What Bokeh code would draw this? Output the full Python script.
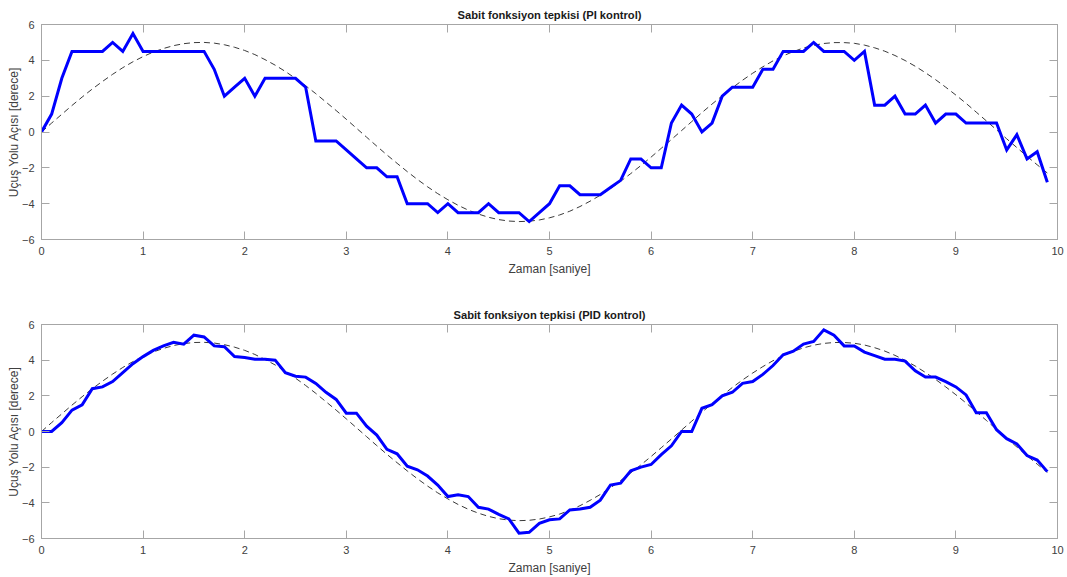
from bokeh.plotting import figure
from bokeh.layouts import column
from bokeh.models import LinearAxis, FixedTicker, Range1d
from bokeh.embed import file_html
from bokeh.resources import INLINE

# time base (s), sampled every 0.1 s
t = [i / 10 for i in range(100)]

# reference trajectory (deg)
ref = [0.00, 0.50, 0.99, 1.48, 1.95, 2.40, 2.82, 3.22, 3.59, 3.92,
       4.21, 4.46, 4.66, 4.82, 4.93, 4.99, 5.00, 4.96, 4.87, 4.73,
       4.55, 4.32, 4.04, 3.73, 3.38, 2.99, 2.58, 2.14, 1.67, 1.20,
       0.71, 0.21, -0.29, -0.79, -1.28, -1.75, -2.21, -2.65, -3.06, -3.44,
       -3.78, -4.09, -4.36, -4.58, -4.76, -4.89, -4.97, -5.00, -4.98, -4.91,
       -4.79, -4.63, -4.42, -4.16, -3.86, -3.53, -3.16, -2.75, -2.32, -1.87,
       -1.40, -0.91, -0.42, 0.08, 0.58, 1.08, 1.56, 2.02, 2.47, 2.89,
       3.28, 3.64, 3.97, 4.25, 4.49, 4.69, 4.84, 4.94, 4.99, 4.99,
       4.95, 4.85, 4.70, 4.51, 4.27, 3.99, 3.67, 3.31, 2.92, 2.50,
       2.06, 1.60, 1.11, 0.62, 0.12, -0.38, -0.87, -1.36, -1.83, -2.29]

# flight path angle with PI control (deg)
pi_resp = [0.0, 1.0, 3.0, 4.5, 4.5, 4.5, 4.5, 5.0, 4.5, 5.5,
           4.5, 4.5, 4.5, 4.5, 4.5, 4.5, 4.5, 3.5, 2.0, 2.5,
           3.0, 2.0, 3.0, 3.0, 3.0, 3.0, 2.5, -0.5, -0.5, -0.5,
           -1.0, -1.5, -2.0, -2.0, -2.5, -2.5, -4.0, -4.0, -4.0, -4.5,
           -4.0, -4.5, -4.5, -4.5, -4.0, -4.5, -4.5, -4.5, -5.0, -4.5,
           -4.0, -3.0, -3.0, -3.5, -3.5, -3.5, -3.1, -2.7, -1.5, -1.5,
           -2.0, -2.0, 0.5, 1.5, 1.0, 0.0, 0.5, 2.0, 2.5, 2.5,
           2.5, 3.5, 3.5, 4.5, 4.5, 4.5, 5.0, 4.5, 4.5, 4.5,
           4.0, 4.5, 1.5, 1.5, 2.0, 1.0, 1.0, 1.5, 0.5, 1.0,
           1.0, 0.5, 0.5, 0.5, 0.5, -1.0, -0.15, -1.5, -1.1, -2.8]

# flight path angle with PID control (deg)
pid_resp = [0.0, 0.0, 0.5, 1.2, 1.5, 2.4, 2.5, 2.8, 3.3, 3.8,
            4.2, 4.55, 4.8, 5.0, 4.9, 5.4, 5.3, 4.8, 4.75, 4.2,
            4.15, 4.05, 4.05, 4.0, 3.3, 3.1, 3.05, 2.7, 2.2, 1.8,
            1.03, 1.03, 0.3, -0.2, -1.0, -1.25, -1.95, -2.15, -2.5, -3.0,
            -3.65, -3.55, -3.65, -4.25, -4.35, -4.65, -4.9, -5.7, -5.65, -5.15,
            -4.95, -4.9, -4.4, -4.35, -4.25, -3.85, -3.0, -2.9, -2.2, -2.0,
            -1.85, -1.3, -0.8, 0.0, 0.0, 1.3, 1.5, 2.0, 2.2, 2.7,
            2.8, 3.2, 3.7, 4.3, 4.5, 4.9, 5.05, 5.7, 5.4, 4.8,
            4.8, 4.45, 4.25, 4.05, 4.05, 3.95, 3.4, 3.05, 3.05, 2.8,
            2.5, 2.05, 1.05, 1.05, 0.1, -0.4, -0.7, -1.35, -1.6, -2.25]

x_ticks = [0, 1, 2, 3, 4, 5, 6, 7, 8, 9, 10]
y_ticks = [-6, -4, -2, 0, 2, 4, 6]

titles = ["Sabit fonksiyon tepkisi (PI kontrol)",
          "Sabit fonksiyon tepkisi (PID kontrol)"]
x_label = "Zaman [saniye]"
y_label = "Uçuş Yolu Açısı [derece]"

FONT = "Liberation Sans"
BOX = "#a6a6a6"
TXT = "#404040"


def style_axis(ax, show_labels, label_standoff=3):
    ax.axis_line_color = BOX
    ax.major_tick_line_color = BOX
    ax.major_tick_in = 8
    ax.major_tick_out = 0
    ax.minor_tick_line_color = None
    ax.major_label_text_font = FONT
    ax.major_label_text_color = TXT
    ax.axis_label_text_font = FONT
    ax.axis_label_text_color = TXT
    ax.axis_label_text_font_style = "normal"
    ax.axis_label_text_font_size = "12px"
    if show_labels:
        ax.major_label_text_font_size = "11px"
        ax.major_label_standoff = 7
        ax.axis_label_standoff = label_standoff
    else:
        # tick marks only on the mirrored sides
        ax.major_label_text_color = None
        ax.major_label_text_font_size = "1px"
        ax.major_label_standoff = 0


def make_panel(title, resp, height, top, bottom):
    p = figure(width=1067, height=height, output_backend="svg",
               toolbar_location=None,
               x_range=Range1d(0, 10), y_range=Range1d(-6, 6),
               min_border_left=41, min_border_right=10,
               min_border_top=top, min_border_bottom=bottom)
    p.title.text = title
    p.title.text_font = FONT
    p.title.text_font_size = "11.2px"
    p.title.text_font_style = "bold"
    p.title.text_color = "#1a1a1a"
    p.title.align = "center"
    p.title.offset = 21
    p.title.standoff = 8

    p.grid.visible = False
    p.outline_line_color = BOX
    p.outline_line_width = 1
    p.background_fill_color = "white"
    p.border_fill_color = "white"

    p.xaxis.ticker = FixedTicker(ticks=x_ticks)
    p.yaxis.ticker = FixedTicker(ticks=y_ticks)
    p.xaxis.axis_label = x_label
    p.yaxis.axis_label = y_label
    style_axis(p.xaxis[0], True, 4)
    style_axis(p.yaxis[0], True, -2)

    top_ax = LinearAxis(ticker=FixedTicker(ticks=x_ticks))
    right_ax = LinearAxis(ticker=FixedTicker(ticks=y_ticks))
    style_axis(top_ax, False)
    style_axis(right_ax, False)
    p.add_layout(top_ax, "above")
    p.add_layout(right_ax, "right")

    p.line(t, ref, line_color="#3a3a3a", line_width=1, line_dash="6 4")
    p.line(t, resp, line_color="#0000ff", line_width=3,
           line_join="miter")
    return p


p1 = make_panel(titles[0], pi_resp, 288, 24, 49)
p2 = make_panel(titles[1], pid_resp, 289, 36, 38)

layout = column(p1, p2)

with open("out.html", "w") as f:
    f.write(file_html(layout, INLINE))
